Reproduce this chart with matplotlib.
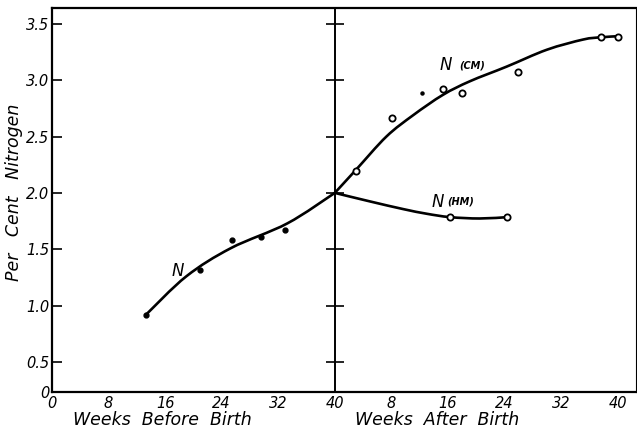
import matplotlib
matplotlib.use("Agg")
import matplotlib.pyplot as plt
from matplotlib.path import Path
from matplotlib.patches import PathPatch

# ---- data (weeks on a continuous scale: 0-40 before birth, 40-80 = 0-40 after birth)
pre_weeks = [13.3, 21.0, 25.4, 29.6, 32.9]
pre_n = [0.92, 1.32, 1.58, 1.61, 1.67]

pre_curve_weeks = [13.3, 19.0, 25.3, 33.3, 40.0]
pre_curve_n = [0.92, 1.26, 1.51, 1.73, 2.0]

cm_weeks = [43.0, 48.1, 55.3, 58.0, 65.9, 77.7, 80.1]
cm_n = [2.19, 2.66, 2.92, 2.89, 3.075, 3.38, 3.38]
cm_mark_week = [52.3]
cm_mark_n = [2.89]

cm_curve_weeks = [40.0, 43.0, 47.3, 51.1, 55.3, 59.1, 64.3, 70.0, 75.1, 77.6, 80.1]
cm_curve_n = [2.0, 2.205, 2.50, 2.69, 2.87, 2.99, 3.12, 3.27, 3.36, 3.38, 3.39]

hm_weeks = [56.3, 64.4]
hm_n = [1.785, 1.785]

hm_curve_weeks = [40.0, 45.0, 49.7, 53.0, 56.3, 60.5, 64.4]
hm_curve_n = [2.0, 1.924, 1.856, 1.815, 1.785, 1.773, 1.785]

x_ticks = [0, 8, 16, 24, 32, 40, 48, 56, 64, 72, 80]
x_tick_labels = ["0", "8", "16", "24", "32", "40", "8", "16", "24", "32", "40"]
y_ticks = [0.5, 1.0, 1.5, 2.0, 2.5, 3.0, 3.5]
y_tick_labels = ["0.5", "1.0", "1.5", "2.0", "2.5", "3.0", "3.5"]


def smooth_path(xs, ys):
    """Bezier path through the knots (Catmull-Rom tangents)."""
    pts = list(zip(xs, ys))
    verts = [pts[0]]
    codes = [Path.MOVETO]
    n = len(pts)
    for i in range(n - 1):
        p0 = pts[i - 1] if i > 0 else pts[i]
        p1 = pts[i]
        p2 = pts[i + 1]
        p3 = pts[i + 2] if i + 2 < n else pts[i + 1]
        c1 = (p1[0] + (p2[0] - p0[0]) / 6, p1[1] + (p2[1] - p0[1]) / 6)
        c2 = (p2[0] - (p3[0] - p1[0]) / 6, p2[1] - (p3[1] - p1[1]) / 6)
        verts += [c1, c2, p2]
        codes += [Path.CURVE4] * 3
    return Path(verts, codes)


# ---- figure
fig = plt.figure(figsize=(6.37, 4.32), dpi=100)
ax = fig.add_axes([52/637, 40/432, 584/637, 384/432])
ymin, ymax = 0.234, 3.64
ax.set_xlim(0, 82.6)
ax.set_ylim(ymin, ymax)

ital = dict(family="DejaVu Sans", style="italic")

lw = 1.9
for xs, ys in [(pre_curve_weeks, pre_curve_n), (cm_curve_weeks, cm_curve_n),
               (hm_curve_weeks, hm_curve_n)]:
    ax.add_patch(PathPatch(smooth_path(xs, ys), fill=False, edgecolor="black",
                           lw=lw, capstyle="round", joinstyle="round"))

ax.plot(pre_weeks, pre_n, "o", color="black", ms=3.5, ls="none")
ax.plot(cm_weeks, cm_n, "o", mfc="white", mec="black", mew=1.3, ms=4.5, ls="none", zorder=3)
ax.plot(hm_weeks, hm_n, "o", mfc="white", mec="black", mew=1.3, ms=4.5, ls="none", zorder=3)
ax.plot(cm_mark_week, cm_mark_n, "o", color="black", ms=2.2, ls="none")

# middle (birth) line with crossing ticks
ax.axvline(40, color="black", lw=1.4)
ax.plot([40] * len(y_ticks), y_ticks, "_", color="black", ms=13, mew=1.2, ls="none")

# labels on curves
ax.text(17.8, 1.31, "N", fontsize=12, ha="center", va="center", **ital)
ax.text(55.7, 3.13, "N", fontsize=12, ha="center", va="center", **ital)
ax.text(59.5, 3.13, "(CM)", fontsize=7, ha="center", va="center", weight="bold", **ital)
ax.text(54.5, 1.915, "N", fontsize=12, ha="center", va="center", **ital)
ax.text(57.8, 1.92, "(HM)", fontsize=7, ha="center", va="center", weight="bold", **ital)

# axes styling
for s in ["left", "bottom", "top"]:
    ax.spines[s].set_linewidth(1.6)
ax.spines["right"].set_linewidth(0.8)

ax.set_xticks(x_ticks)
ax.set_xticklabels(x_tick_labels, fontsize=10.5, **ital)
ax.tick_params(axis="x", length=0, pad=3)

ax.set_yticks([ymin] + y_ticks)
ax.set_yticklabels(["0"] + y_tick_labels, fontsize=10.5, **ital)
ax.tick_params(axis="y", direction="in", length=7, width=1.2, pad=2)

ax.set_ylabel("Per   Cent   Nitrogen", fontsize=12.5, va="center", **ital)
ax.yaxis.set_label_coords(-38/584, 0.52)

fig.text(162/637, 1 - 420/432, "Weeks  Before  Birth", fontsize=12.5, ha="center", va="center", **ital)
fig.text(437/637, 1 - 420/432, "Weeks  After  Birth", fontsize=12.5, ha="center", va="center", **ital)

fig.savefig("out.png", dpi=100)
